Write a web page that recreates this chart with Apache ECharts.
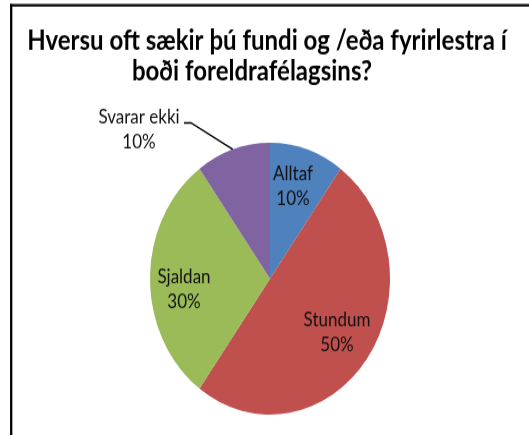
<!DOCTYPE html>
<html>
<head>
<meta charset="utf-8">
<script src="https://cdn.jsdelivr.net/npm/echarts@6/dist/echarts.min.js"></script>
<style>
  html, body { margin: 0; padding: 0; background: #fff; }
  #wrap { width: 529px; height: 435px; overflow: hidden; position: relative; }
  /* the original picture is stretched vertically, so the whole chart is too */
  #chart { width: 529px; height: 384px; transform: scaleY(1.1328); transform-origin: 0 0; }
</style>
</head>
<body>
<div id="wrap"><div id="chart"></div></div>
<script>
const titleLines = ['Hversu oft sækir þú fundi og /eða fyrirlestra í', 'boði foreldrafélagsins?'];
const categories = ['Alltaf', 'Stundum', 'Sjaldan', 'Svarar ekki'];
const percentages = [10, 50, 30, 10];
const colors = ['#4F81BD', '#C0504D', '#9BBB59', '#8064A2'];

const FONT = 'Lato, "Open Sans", sans-serif';
const center = [270, 246];
const radius = 120;

// where each label block sits, relative to the pie centre
const labelOffsets = {
  'Alltaf': [23, -81],
  'Stundum': [67, 48],
  'Sjaldan': [-86, 10],
  'Svarar ekki': [-131, -131]
};

const chart = echarts.init(document.getElementById('chart'));

const total = percentages.reduce((a, b) => a + b, 0);
const midAngle = idx => {
  let before = 0;
  for (let i = 0; i < idx; i++) before += percentages[i];
  return (before + percentages[idx] / 2) / total * Math.PI * 2;
};

chart.setOption({
  animation: false,
  backgroundColor: '#fff',
  graphic: [
    { type: 'line', shape: { x1: 10, y1: 4.7, x2: 529, y2: 4.7 }, style: { stroke: '#000', lineWidth: 2.2 } },
    { type: 'line', shape: { x1: 11.2, y1: 3.6, x2: 11.2, y2: 384 }, style: { stroke: '#000', lineWidth: 2.3 } },
    {
      type: 'text', x: 267, y: 36,
      style: { text: titleLines[0], align: 'center', verticalAlign: 'middle', font: 'bold 24px ' + FONT, fill: '#000' }
    },
    {
      type: 'text', x: 252, y: 63,
      style: { text: titleLines[1], align: 'center', verticalAlign: 'middle', font: 'bold 24px ' + FONT, fill: '#000' }
    }
  ],
  series: [{
    type: 'pie',
    center: center,
    radius: radius,
    startAngle: 90,
    clockwise: true,
    avoidLabelOverlap: false,
    itemStyle: { borderWidth: 0 },
    label: {
      show: true,
      position: 'inside',
      formatter: '{b}\n{c}%',
      color: '#111',
      fontFamily: FONT,
      fontSize: 17,
      lineHeight: 22
    },
    labelLine: { show: false },
    labelLayout: params => {
      const name = categories[params.dataIndex];
      const off = labelOffsets[name];
      const res = {
        x: center[0] + off[0],
        y: center[1] + off[1],
        align: 'center',
        verticalAlign: 'middle'
      };
      if (name === 'Svarar ekki') {
        const a = midAngle(params.dataIndex);
        const edge = [center[0] + radius * Math.sin(a), center[1] - radius * Math.cos(a)];
        res.labelLinePoints = [edge, [191, 108.5], [184, 108.5]];
      }
      return res;
    },
    data: categories.map((name, i) => ({
      name: name,
      value: percentages[i],
      itemStyle: { color: colors[i] },
      label: name === 'Svarar ekki' ? { position: 'outside' } : undefined,
      labelLine: name === 'Svarar ekki' ? { show: true, length: 10, length2: 6, lineStyle: { color: '#000', width: 1.4 } } : undefined
    }))
  }]
});
</script>
</body>
</html>
